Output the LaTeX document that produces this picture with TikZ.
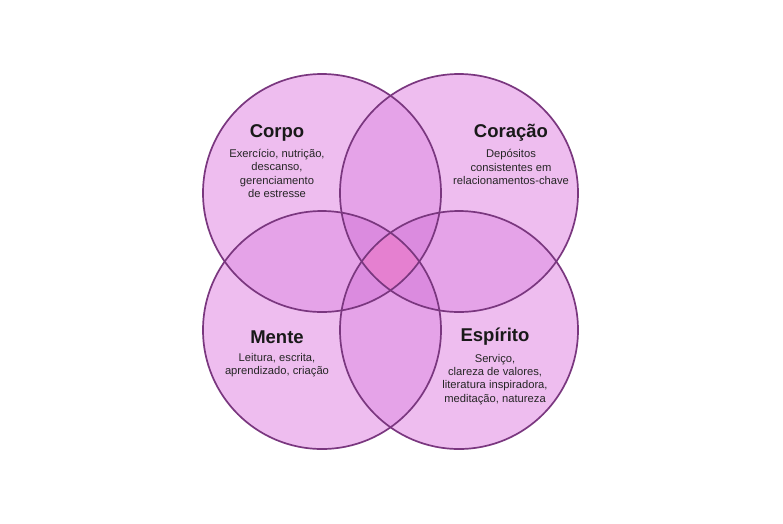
\documentclass[tikz,border=0pt]{standalone}
\usepackage{fontspec}
\setmainfont{Liberation Sans}
\usetikzlibrary{positioning}

\definecolor{ringline}{HTML}{7A377F}
\definecolor{oneset}{HTML}{EEBDEF}
\definecolor{twosets}{HTML}{E5A3E8}
\definecolor{threesets}{HTML}{DB8BDF}
\definecolor{foursets}{HTML}{E580D0}

\tikzset{
    title/.style={font=\bfseries\fontsize{18.5}{20}\selectfont, text=black!90},
    body/.style={font=\fontsize{11.2}{13.4}\selectfont, align=center, text=black!85},
}

\newcommand{\rr}{119}

\begin{document}
\begin{tikzpicture}[x=1pt, y=-1pt, line width=1.7pt]

    \useasboundingbox (0,0) rectangle (783,523);

    % Centres
    \coordinate (C) at (322,193);
    \coordinate (H) at (459,193);
    \coordinate (M) at (322,330);
    \coordinate (E) at (459,330);

    % Single fills
    \foreach \a in {C,H,M,E}
        \fill[oneset] (\a) circle (\rr);

    % Pairs
    \foreach \a/\b in {C/H, C/M, C/E, H/M, H/E, M/E} {
        \begin{scope}
            \clip (\a) circle (\rr);
            \fill[twosets] (\b) circle (\rr);
        \end{scope}
    }

    % Triples
    \foreach \a/\b/\c in {C/H/M, C/H/E, C/M/E, H/M/E} {
        \begin{scope}
            \clip (\a) circle (\rr);
            \clip (\b) circle (\rr);
            \fill[threesets] (\c) circle (\rr);
        \end{scope}
    }

    % All four
    \begin{scope}
        \clip (C) circle (\rr);
        \clip (H) circle (\rr);
        \clip (M) circle (\rr);
        \fill[foursets] (E) circle (\rr);
    \end{scope}

    % Rings
    \foreach \a in {C,H,M,E}
        \draw[ringline] (\a) circle (\rr);

    % Labels
    \node[title] (corpo) at (277,133) {Corpo};
    \node[body, below=-0.5pt of corpo] (corpotxt)
        {Exercício, nutrição,\\descanso,\\gerenciamento\\de estresse};

    \node[title] (coracao) at (511,133) {Coração};
    \node[body, below=-0.5pt of coracao] (coracaotxt)
        {Depósitos\\consistentes em\\relacionamentos-chave};

    \node[title] (mente) at (277,337) {Mente};
    \node[body, below=1.5pt of mente] (mentetxt)
        {Leitura, escrita,\\aprendizado, criação};

    \node[title] (espirito) at (495,337) {Espírito};
    \node[body, below=0pt of espirito] (espiritotxt)
        {Serviço,\\clareza de valores,\\literatura inspiradora,\\meditação, natureza};

\end{tikzpicture}
\end{document}
